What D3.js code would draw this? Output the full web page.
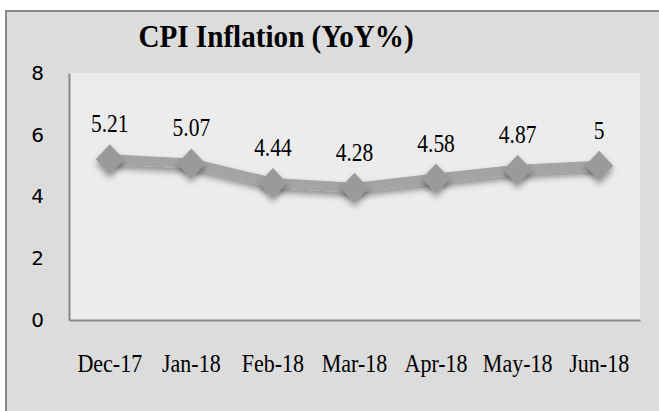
<!DOCTYPE html>
<html>
<head>
<meta charset="utf-8">
<script src="https://cdn.jsdelivr.net/npm/d3@7"></script>
<style>
  body { margin: 0; background: #fff; }
</style>
</head>
<body>
<script>
var months = ["Dec-17", "Jan-18", "Feb-18", "Mar-18", "Apr-18", "May-18", "Jun-18"];
var cpi = [5.21, 5.07, 4.44, 4.28, 4.58, 4.87, 5];
var yTicks = [0, 2, 4, 6, 8];

var width = 659, height = 411;
var margin = {top: 73, right: 19, bottom: 91, left: 69};
var serif = "'Liberation Serif', 'Times New Roman', serif";

var svg = d3.select("body").append("svg")
    .attr("width", width)
    .attr("height", height);

var defs = svg.append("defs");
var shadow = defs.append("filter").attr("id", "shadow")
    .attr("x", "-50%").attr("y", "-50%").attr("width", "200%").attr("height", "200%");
shadow.append("feGaussianBlur").attr("in", "SourceAlpha").attr("stdDeviation", 3);
shadow.append("feOffset").attr("dx", 0).attr("dy", 4).attr("result", "blur");
shadow.append("feComponentTransfer").append("feFuncA").attr("type", "linear").attr("slope", 0.4);
var merge = shadow.append("feMerge");
merge.append("feMergeNode");
merge.append("feMergeNode").attr("in", "SourceGraphic");

// outer chart frame
svg.append("rect")
    .attr("x", 6).attr("y", 11)
    .attr("width", width + 10).attr("height", height + 10)
    .attr("fill", "#dcdcdc")
    .attr("stroke", "#8a8a8a")
    .attr("stroke-width", 2);

var x = d3.scaleBand()
    .domain(months)
    .range([margin.left, width - margin.right]);

var y = d3.scaleLinear()
    .domain([0, 8])
    .range([height - margin.bottom, margin.top]);

// plot area
svg.append("rect")
    .attr("x", margin.left).attr("y", margin.top)
    .attr("width", width - margin.left - margin.right)
    .attr("height", height - margin.top - margin.bottom)
    .attr("fill", "#ececec");

// title
svg.append("text")
    .attr("transform", "translate(276,47) scale(0.94,1)")
    .attr("text-anchor", "middle")
    .style("font-family", serif)
    .style("font-weight", "bold")
    .style("font-size", "31px")
    .text("CPI Inflation (YoY%)");

// y axis
var yAxis = svg.append("g")
    .attr("transform", "translate(" + margin.left + ",0)")
    .call(d3.axisLeft(y).tickValues(yTicks).tickSize(0).tickPadding(25));
yAxis.select(".domain").attr("stroke", "#888").attr("stroke-width", 2);
yAxis.selectAll("text")
    .style("font-family", "'DejaVu Sans', sans-serif")
    .style("font-size", "20px")
    .attr("fill", "#000");

// x axis
var xAxis = svg.append("g")
    .attr("transform", "translate(0," + (height - margin.bottom) + ")")
    .call(d3.axisBottom(x).tickSize(0));
xAxis.select(".domain").attr("stroke", "#888").attr("stroke-width", 2);
xAxis.selectAll("text")
    .attr("y", 52)
    .attr("dy", null)
    .attr("transform", "scale(0.88,1)")
    .style("font-family", serif)
    .style("font-size", "25px")
    .attr("fill", "#000");

var cx = function(d, i) { return x(months[i]) + x.bandwidth() / 2; };

var line = d3.line()
    .x(cx)
    .y(function(d) { return y(d); });

svg.append("path")
    .datum(cpi)
    .attr("d", line)
    .attr("fill", "none")
    .attr("stroke", "#a4a4a4")
    .attr("stroke-width", 10)
    .attr("stroke-linejoin", "round")
    .attr("filter", "url(#shadow)");

// wide diamond marker
var wideDiamond = {
  draw: function(context, size) {
    var w = 14, h = 15;
    context.moveTo(0, -h);
    context.lineTo(w, 0);
    context.lineTo(0, h);
    context.lineTo(-w, 0);
    context.closePath();
  }
};

svg.selectAll(".marker")
    .data(cpi)
  .enter().append("path")
    .attr("class", "marker")
    .attr("d", d3.symbol().type(wideDiamond))
    .attr("transform", function(d, i) { return "translate(" + cx(d, i) + "," + y(d) + ")"; })
    .attr("fill", "#9a9a9a")
    .attr("filter", "url(#shadow)");

svg.selectAll(".label")
    .data(cpi)
  .enter().append("text")
    .attr("class", "label")
    .attr("transform", function(d, i) {
      return "translate(" + cx(d, i) + "," + (y(d) - 27) + ") scale(0.86,1)";
    })
    .attr("text-anchor", "middle")
    .style("font-family", serif)
    .style("font-size", "25px")
    .text(function(d) { return d; });
</script>
</body>
</html>
